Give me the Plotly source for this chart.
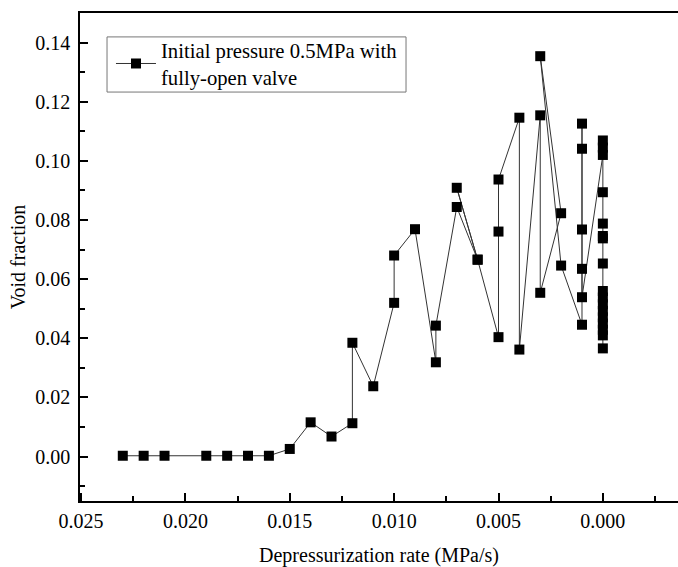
import plotly.graph_objects as go

# Depressurization rate (MPa/s), in recorded order
rate = [0.023, 0.022, 0.021, 0.019, 0.018, 0.017, 0.016, 0.015, 0.014, 0.013,
        0.012, 0.012, 0.011, 0.010, 0.010, 0.009, 0.008, 0.008, 0.007, 0.006,
        0.007, 0.006, 0.005, 0.005, 0.005, 0.004, 0.004, 0.003, 0.003, 0.002,
        0.003, 0.002, 0.001, 0.001, 0.001, 0.001, 0.001, 0.001,
        0.000, 0.000, 0.000, 0.000, 0.000, 0.000, 0.000, 0.000,
        0.000, 0.000, 0.000, 0.000, 0.000, 0.000, 0.000, 0.000, 0.000]

# Void fraction
void = [0.0003, 0.0003, 0.0003, 0.0003, 0.0003, 0.0003, 0.0003, 0.0026, 0.0116, 0.0068,
        0.0113, 0.0385, 0.0238, 0.0520, 0.0680, 0.0769, 0.0319, 0.0443, 0.0844, 0.0666,
        0.0909, 0.0666, 0.0404, 0.0761, 0.0937, 0.1146, 0.0362, 0.1154, 0.0554, 0.0823,
        0.1354, 0.0646, 0.0446, 0.1126, 0.1041, 0.0768, 0.0635, 0.0539,
        0.1020, 0.1045, 0.1069, 0.0894, 0.0788, 0.0746, 0.0738, 0.0653,
        0.0560, 0.0538, 0.0515, 0.0493, 0.0471, 0.0450, 0.0429, 0.0410, 0.0366]

series_name = "Initial pressure 0.5MPa with<br>fully-open valve"
x_title = "Depressurization rate (MPa/s)"
y_title = "Void fraction"

FONT = "Liberation Serif, Times New Roman, serif"

fig = go.Figure()
fig.add_trace(go.Scatter(
    x=rate, y=void, mode="lines+markers", name=series_name,
    line=dict(color="#333333", width=1),
    marker=dict(symbol="square", size=10, color="black"),
    showlegend=True,
))

# legend frame (drawn as a shape so its size matches the original)
fig.add_shape(type="rect", xref="paper", yref="paper",
              x0=0.0452, x1=0.5452, y0=0.838, y1=0.951,
              line=dict(color="#777777", width=1), fillcolor="white", layer="below")

fig.update_layout(
    width=678, height=567,
    margin=dict(l=80, r=0, t=13, b=66),
    paper_bgcolor="white", plot_bgcolor="white",
    font=dict(family=FONT, size=20, color="black"),
    showlegend=True,
    legend=dict(
        x=0.0518, y=0.965, xanchor="left", yanchor="top",
        bgcolor="rgba(0,0,0,0)", borderwidth=0,
        font=dict(family=FONT, size=20.7, color="black"),
        itemwidth=40,
    ),
    xaxis=dict(
        range=[0.02505, -0.0036],
        tick0=0, dtick=0.005, tickformat=".3f",
        ticks="inside", ticklen=8, tickwidth=1.5, tickcolor="black",
        showline=True, linecolor="black", linewidth=1.5, mirror=True,
        showgrid=False, zeroline=False,
        minor=dict(ticks="inside", ticklen=5, tickwidth=1.5, tickcolor="black",
                   dtick=0.0025, tick0=0, showgrid=False),
        ticklabelstandoff=1,
        tickfont=dict(family=FONT, size=20),
        title=dict(text=x_title, standoff=17, font=dict(family=FONT, size=20)),
        automargin=False,
    ),
    yaxis=dict(
        range=[-0.015, 0.15],
        tick0=0, dtick=0.02, tickformat=".2f",
        ticks="inside", ticklen=8, tickwidth=1.5, tickcolor="black",
        showline=True, linecolor="black", linewidth=1.5, mirror=False,
        showgrid=False, zeroline=False,
        minor=dict(ticks="inside", ticklen=5, tickwidth=1.5, tickcolor="black",
                   dtick=0.01, tick0=0, showgrid=False),
        ticklabelstandoff=4,
        tickfont=dict(family=FONT, size=20),
        title=dict(text=y_title, standoff=4, font=dict(family=FONT, size=20)),
        automargin=False,
    ),
)

fig.write_html(
    "out.html",
    config={"displayModeBar": False},
    post_script="document.body.style.margin='0';document.body.style.overflow='hidden';",
)
